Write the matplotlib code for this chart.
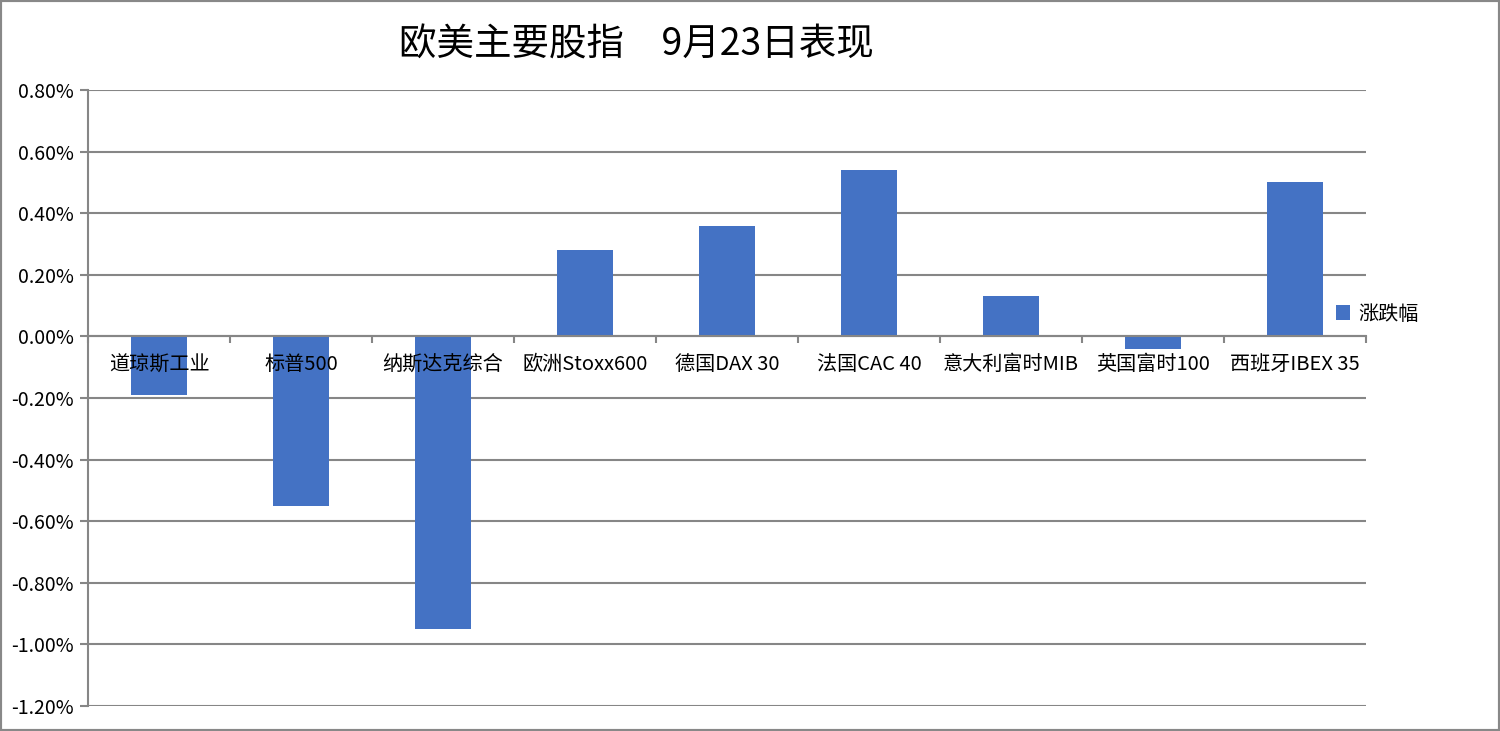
import numpy as np
import matplotlib.pyplot as plt
from matplotlib.patches import Rectangle
from matplotlib.ticker import FuncFormatter, FixedLocator

plt.rcParams['font.family'] = ['Noto Sans CJK SC', 'DejaVu Sans']

categories = ['道琼斯工业', '标普500', '纳斯达克综合', '欧洲Stoxx600', '德国DAX 30',
              '法国CAC 40', '意大利富时MIB', '英国富时100', '西班牙IBEX 35']
changes = [-0.19, -0.55, -0.95, 0.28, 0.36, 0.54, 0.13, -0.04, 0.50]
yticks = [-1.2, -1.0, -0.8, -0.6, -0.4, -0.2, 0.0, 0.2, 0.4, 0.6, 0.8]

blue = '#4472C4'
gray = '#868686'

fig = plt.figure(figsize=(15, 7.31), dpi=100)
ax = fig.add_axes([88 / 1500, 1 - 706 / 731, (1366 - 88) / 1500, (706 - 90) / 731])

x = np.arange(len(categories))
ax.bar(x, changes, width=0.4, color=blue, zorder=1, label='涨跌幅')

for v in yticks:
    ax.axhline(v, color=gray, linewidth=1.5, zorder=0)

ax.set_xlim(-0.5, len(categories) - 0.5)
ax.set_ylim(-1.2, 0.8)
ax.set_yticks(yticks)
ax.yaxis.set_major_formatter(FuncFormatter(lambda v, p: f'{v:.2f}%'))
ax.tick_params(axis='y', length=6, width=1.5, color=gray, pad=4, labelsize=14)

ax.set_xticks(x)
ax.set_xticklabels(categories)
ax.xaxis.set_minor_locator(FixedLocator(np.arange(len(categories) + 1) - 0.5))
ax.tick_params(axis='x', which='major', length=0, pad=13, labelsize=14.5)
ax.tick_params(axis='x', which='minor', length=5, width=1.5, color=gray)

for s in ['top', 'right']:
    ax.spines[s].set_visible(False)
ax.spines['bottom'].set_position(('data', 0))
for s in ['left', 'bottom']:
    ax.spines[s].set_color(gray)
    ax.spines[s].set_linewidth(1.5)

ax.legend(loc='center left', bbox_to_anchor=(1336 / 1500, 1 - 314 / 731),
          bbox_transform=fig.transFigure, frameon=False, borderpad=0, borderaxespad=0,
          fontsize=14.5, handlelength=0.7, handleheight=0.7, handletextpad=0.4)

fig.text(636 / 1500, 1 - 45 / 731, '欧美主要股指　9月23日表现', ha='center', va='center',
         fontsize=27)

fig.patches.append(Rectangle((0, 0), 1, 1, transform=fig.transFigure, fill=False,
                             edgecolor='#888888', linewidth=3))

fig.savefig('out.png', dpi=100)
